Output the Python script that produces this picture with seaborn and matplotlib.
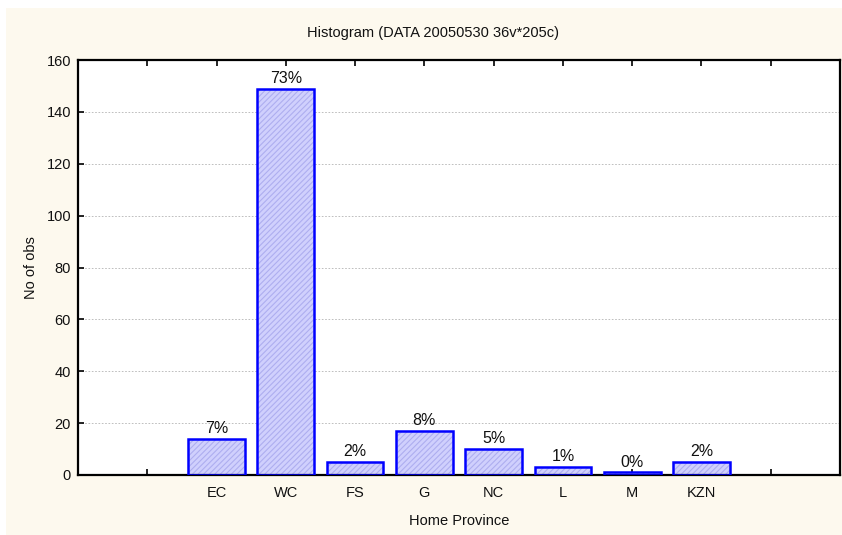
import matplotlib
matplotlib.use("Agg")
import matplotlib.pyplot as plt
import seaborn as sns
import pandas as pd
from matplotlib.patches import Rectangle

provinces = ["EC", "WC", "FS", "G", "NC", "L", "M", "KZN"]
counts = [14, 149, 5, 17, 10, 3, 1, 5]
pct_labels = ["7%", "73%", "2%", "8%", "5%", "1%", "0%", "2%"]
yticks = [0, 20, 40, 60, 80, 100, 120, 140, 160]

df = pd.DataFrame({"province": provinces, "count": counts})

sns.set_theme(style="white")
plt.rcParams["font.family"] = ["Liberation Sans", "DejaVu Sans"]
plt.rcParams["hatch.linewidth"] = 0.8

fig = plt.figure(figsize=(8.42, 5.35), dpi=100)
fig.patch.set_facecolor("white")
fig.patches.append(Rectangle((6 / 842, 0), 1, 1 - 8 / 535, transform=fig.transFigure,
                             facecolor="#fdf9ee", edgecolor="none", zorder=-10))
ax = fig.add_axes([78 / 842, 1 - 475 / 535, (840 - 78) / 842, (475 - 60) / 535])
ax.set_facecolor("white")

sns.barplot(data=df, x="province", y="count", order=provinces, ax=ax,
            color="#d0d0fd", saturation=1, width=0.82, errorbar=None,
            linewidth=0, zorder=2)
for p in ax.patches:
    p.set_hatch("//////")
    p.set_edgecolor("#aeaef0")
    p.set_linewidth(0)
sns.barplot(data=df, x="province", y="count", order=provinces, ax=ax,
            fill=False, color="#0000ff", width=0.82, errorbar=None,
            linewidth=1.8, zorder=3)

ax.bar_label(ax.containers[0], labels=pct_labels, padding=2, fontsize=11.5, color="#111111")

ax.set_xlim(-2, 9)
ax.set_ylim(0, 160)
ax.set_xticks(list(range(-1, 9)))
ax.set_xticklabels([""] + provinces + [""])
ax.set_yticks(yticks)
ax.set_yticklabels([str(v) for v in yticks])
ax.yaxis.grid(True, linestyle=(0, (2, 2)), color="#b4b4b4", linewidth=0.6, zorder=0)
ax.set_axisbelow(True)

ax.tick_params(axis="both", direction="in", length=4, width=1.2, color="black",
               labelsize=10.5, labelcolor="#111111", top=True, left=True, bottom=True)
ax.tick_params(axis="x", pad=8)
ax.tick_params(axis="y", pad=5)
for s in ax.spines.values():
    s.set_visible(True)
    s.set_color("black")
    s.set_linewidth(1.6)

ax.set_xlabel("Home Province", fontsize=10.5, color="#111111", labelpad=10)
ax.set_ylabel("No of obs", fontsize=10.5, color="#111111", labelpad=6)
fig.text(433 / 842, 1 - 33 / 535, "Histogram (DATA 20050530 36v*205c)", ha="center",
         va="center", fontsize=10.5, color="#111111")

fig.savefig("out.png", dpi=100)
